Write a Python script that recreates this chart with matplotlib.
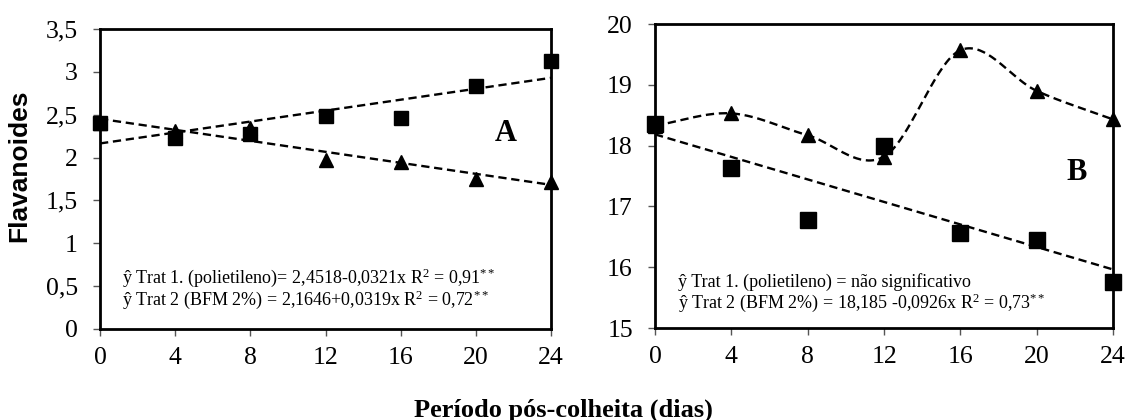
import numpy as np
import matplotlib.pyplot as plt
from matplotlib.ticker import FuncFormatter

SERIF = "Liberation Serif"
plt.rcParams["mathtext.fontset"] = "custom"
plt.rcParams["mathtext.rm"] = SERIF
plt.rcParams["mathtext.it"] = SERIF + ":italic"

dias = [0, 4, 8, 12, 16, 20, 24]

# painel A
a_trat1 = [2.40, 2.31, 2.35, 1.97, 1.95, 1.75, 1.71]   # polietileno (triangulos)
a_trat2 = [2.40, 2.23, 2.28, 2.49, 2.46, 2.84, 3.13]   # BFM 2% (quadrados)
a_fit1 = (2.4518, -0.0321)
a_fit2 = (2.1646, 0.0319)

# painel B
b_trat1 = [18.33, 18.53, 18.17, 17.82, 19.57, 18.90, 18.43]
b_trat2 = [18.35, 17.63, 16.78, 18.00, 16.57, 16.45, 15.75]
b_fit2 = (18.185, -0.0926)


def catmull_rom(x, y, n=40):
    # curva suavizada tipo Excel entre os pontos
    x = np.asarray(x, float)
    y = np.asarray(y, float)
    px = np.concatenate([[2 * x[0] - x[1]], x, [2 * x[-1] - x[-2]]])
    py = np.concatenate([[2 * y[0] - y[1]], y, [2 * y[-1] - y[-2]]])
    xs, ys = [], []
    for i in range(1, len(px) - 2):
        t = np.linspace(0, 1, n)
        for p, out in ((px, xs), (py, ys)):
            p0, p1, p2, p3 = p[i - 1], p[i], p[i + 1], p[i + 2]
            out.append(0.5 * ((2 * p1) + (-p0 + p2) * t
                              + (2 * p0 - 5 * p1 + 4 * p2 - p3) * t ** 2
                              + (-p0 + 3 * p1 - 3 * p2 + p3) * t ** 3))
    return np.concatenate(xs), np.concatenate(ys)


def comma(v, pos):
    return f"{v:g}".replace(".", ",")


def style(ax, ylim, yticks):
    ax.set_xlim(0, 24)
    ax.set_ylim(*ylim)
    ax.set_xticks(dias)
    ax.set_yticks(yticks)
    ax.yaxis.set_major_formatter(FuncFormatter(comma))
    ax.tick_params(direction="out", length=5, width=1.0, color="#555555",
                   labelsize=18.5, top=False, right=False)
    ax.tick_params(axis="x", pad=8)
    ax.tick_params(axis="y", pad=11)
    for lab in ax.get_xticklabels() + ax.get_yticklabels():
        lab.set_fontfamily(SERIF)
    for sp in ax.spines.values():
        sp.set_linewidth(2.0)


fig = plt.figure(figsize=(11.29, 4.2), dpi=100)
axA = fig.add_axes([0.0886, 0.2167, 0.3995, 0.7143])
axB = fig.add_axes([0.5802, 0.219, 0.4057, 0.7238])

xx = np.linspace(0, 24, 100)
ln = dict(color="black", linestyle="--", lw=1.7, dashes=(3.5, 2))
mk = dict(color="black", linestyle="none", clip_on=False, zorder=3)

# A
axA.plot(xx, a_fit1[0] + a_fit1[1] * xx, **ln)
axA.plot(xx, a_fit2[0] + a_fit2[1] * xx, **ln)
axA.plot(dias, a_trat1, marker="^", ms=10, **mk)
axA.plot(dias, a_trat2, marker="s", ms=10.5, **mk)
style(axA, (0, 3.5), np.arange(0, 3.51, 0.5))
axA.text(0.9, 0.65, "A", transform=axA.transAxes, fontsize=22,
         fontweight="bold", fontfamily=SERIF, ha="center", va="center")
axA.text(0.048, 0.17, "ŷ Trat 1. (polietileno)= 2,4518-0,0321x R$^2$ = 0,91$^{**}$",
         transform=axA.transAxes, fontsize=13, fontfamily=SERIF, va="center")
axA.text(0.048, 0.096, "ŷ Trat 2 (BFM 2%) = 2,1646+0,0319x R$^2$ = 0,72$^{**}$",
         transform=axA.transAxes, fontsize=13, fontfamily=SERIF, va="center")

# B
sx, sy = catmull_rom(dias, b_trat1)
axB.plot(sx, sy, **ln)
axB.plot(xx, b_fit2[0] + b_fit2[1] * xx, **ln)
axB.plot(dias, b_trat1, marker="^", ms=10.5, **mk)
axB.plot(dias, b_trat2, marker="s", ms=11, **mk)
style(axB, (15, 20), np.arange(15, 20.1, 1))
axB.text(0.92, 0.51, "B", transform=axB.transAxes, fontsize=22,
         fontweight="bold", fontfamily=SERIF, ha="center", va="center")
axB.text(0.05, 0.15, "ŷ Trat 1. (polietileno) = não significativo",
         transform=axB.transAxes, fontsize=13, fontfamily=SERIF, va="center")
axB.text(0.05, 0.083, "ŷ Trat 2 (BFM 2%) = 18,185 -0,0926x R$^2$ = 0,73$^{**}$",
         transform=axB.transAxes, fontsize=13, fontfamily=SERIF, va="center")

fig.text(19 / 1129, 0.605, "Flavanoides", rotation=90, ha="center", va="center",
         fontsize=19, fontweight="bold", fontfamily="Liberation Sans")
fig.text(563 / 1129, 0.024, "Período pós-colheita (dias)", ha="center", va="center",
         fontsize=19, fontweight="bold", fontfamily=SERIF)

fig.savefig("out.png", dpi=100)
